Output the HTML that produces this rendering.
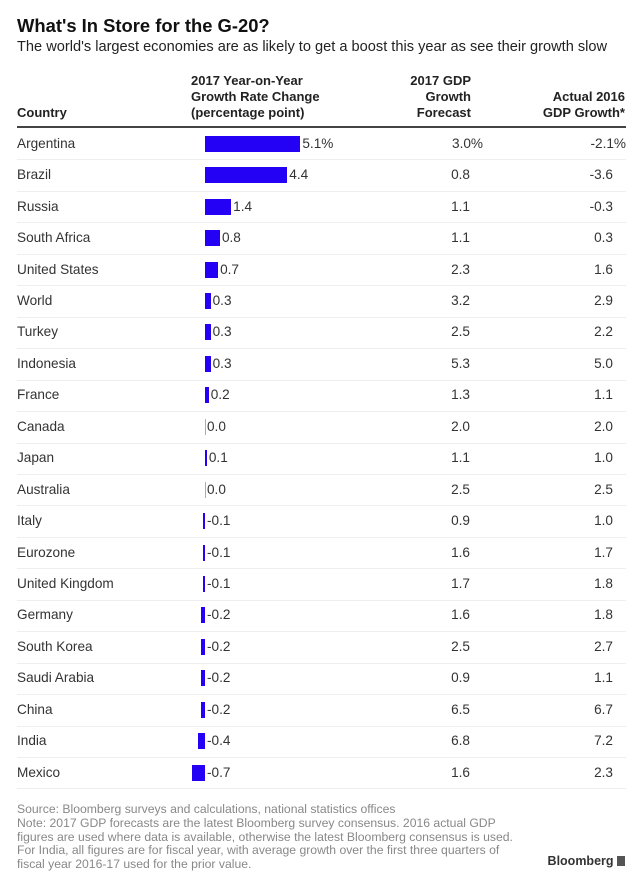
<!DOCTYPE html>
<html><head><meta charset="utf-8"><style>
body{margin:0;width:640px;height:886px;background:#fff;font-family:"Liberation Sans",Arial,sans-serif;color:#222;position:relative;overflow:hidden}
.a{position:absolute;white-space:nowrap}
.h{font-weight:bold;font-size:13px;line-height:16px;color:#222}
.r{font-size:13.6px;color:#333}
.f{font-size:12.2px;color:#888;line-height:13.8px}
</style></head><body>
<div class="a" style="left:17px;top:15px;font-size:18.4px;font-weight:bold;color:#111">What's In Store for the G-20?</div>
<div class="a" style="left:17px;top:39px;font-size:14.6px;color:#222">The world's largest economies are as likely to get a boost this year as see their growth slow</div>
<div class="a h" style="left:17px;top:105px">Country</div>
<div class="a h" style="left:191px;top:73px">2017 Year-on-Year<br>Growth Rate Change<br>(percentage point)</div>
<div class="a h" style="right:169px;top:73px;text-align:right">2017 GDP<br>Growth<br>Forecast</div>
<div class="a h" style="right:15px;top:89px;text-align:right">Actual 2016<br>GDP Growth*</div>
<div class="a" style="left:17px;top:126px;width:609px;height:2px;background:#444"></div>
<div id="rows"></div>
<div class="a f" style="left:17px;top:803px">Source: Bloomberg surveys and calculations, national statistics offices<br>Note: 2017 GDP forecasts are the latest Bloomberg survey consensus. 2016 actual GDP<br>figures are used where data is available, otherwise the latest Bloomberg consensus is used.<br>For India, all figures are for fiscal year, with average growth over the first three quarters of<br>fiscal year 2016-17 used for the prior value.</div>
<div class="a" style="right:15px;top:854px;font-size:12.5px;font-weight:bold;color:#333">Bloomberg <span style="display:inline-block;width:8px;height:10px;background:#555;vertical-align:-1px"></span></div>
<script>
const countries=["Argentina","Brazil","Russia","South Africa","United States","World","Turkey","Indonesia","France","Canada","Japan","Australia","Italy","Eurozone","United Kingdom","Germany","South Korea","Saudi Arabia","China","India","Mexico"];
const change=[5.1,4.4,1.4,0.8,0.7,0.3,0.3,0.3,0.2,0.0,0.1,0.0,-0.1,-0.1,-0.1,-0.2,-0.2,-0.2,-0.2,-0.4,-0.7];
const forecast=[3.0,0.8,1.1,1.1,2.3,3.2,2.5,5.3,1.3,2.0,1.1,2.5,0.9,1.6,1.7,1.6,2.5,0.9,6.5,6.8,1.6];
const actual=[-2.1,-3.6,-0.3,0.3,1.6,2.9,2.2,5.0,1.1,2.0,1.0,2.5,1.0,1.7,1.8,1.8,2.7,1.1,6.7,7.2,2.3];
const x0=205,k=18.7,top0=128,rh=31.45;
const xs=v=>x0+v*k;
const c=document.getElementById('rows');
function mk(cls,css,txt){const d=document.createElement('div');d.className='a '+cls;d.style.cssText=css;if(txt!==undefined)d.textContent=txt;c.appendChild(d);return d;}
countries.forEach((n,i)=>{
  const y=top0+i*rh, cy=y+rh/2;
  let d=mk('r','left:17px;top:'+(cy-8)+'px',n);
  
  
  const v=change[i];
  const l=Math.min(xs(0),xs(v)), w=Math.max(Math.abs(xs(v)-xs(0)),1);
  d=mk('','left:'+l+'px;top:'+(cy-8)+'px;width:'+w+'px;height:16px;background:'+(v===0?'#aab':'#2400f5'));
  
  
  const lx=(v>0?xs(v):xs(0))+2;
  d=mk('r','left:'+lx+'px;top:'+(cy-8)+'px',v.toFixed(1)+(i===0?'%':''));
  
  
  d=mk('r','right:'+(i===0?157:170)+'px;top:'+(cy-8)+'px',forecast[i].toFixed(1)+(i===0?'%':''));
  
  
  d=mk('r','right:'+(i===0?14:27)+'px;top:'+(cy-8)+'px',actual[i].toFixed(1)+(i===0?'%':''));
  
  
  d=mk('','left:17px;top:'+(y+rh)+'px;width:609px;height:1px;background:#eee');
  
  
});
</script>
</body></html>
